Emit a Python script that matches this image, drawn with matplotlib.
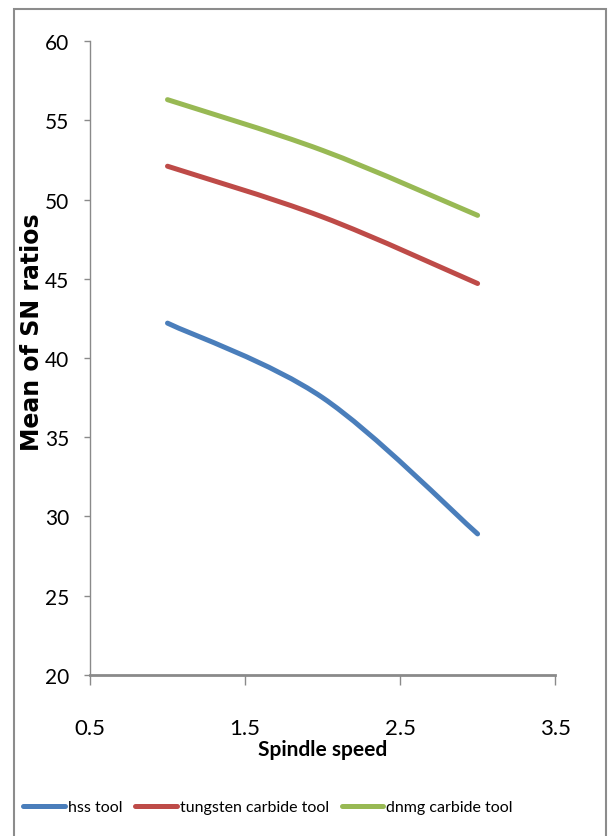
import matplotlib
matplotlib.use('Agg')
import matplotlib.pyplot as plt
from matplotlib.path import Path
from matplotlib.patches import PathPatch, Rectangle
from matplotlib.lines import Line2D

# Данные графика
spindle_speed = [1, 2, 3]
hss_tool = [42.2, 37.5, 28.9]
tungsten_carbide_tool = [52.1, 48.9, 44.7]
dnmg_carbide_tool = [56.3, 53.1, 49.0]

series_names = ['hss tool', 'tungsten carbide tool', 'dnmg carbide tool']
series_values = [hss_tool, tungsten_carbide_tool, dnmg_carbide_tool]
colors = ['#4A7EBB', '#BE4B48', '#98B954']

y_ticks = [20, 25, 30, 35, 40, 45, 50, 55, 60]
x_ticks = [0.5, 1.5, 2.5, 3.5]

narrow = ['Lato', 'DejaVu Sans']


# Сглаженная линия как в Excel (кривые Безье через точки)
def smooth_path(xs, ys):
    pts = list(zip(xs, ys))
    verts = [pts[0]]
    codes = [Path.MOVETO]
    n = len(pts)
    for i in range(n - 1):
        p_prev = pts[i - 1] if i > 0 else pts[i]
        p0 = pts[i]
        p1 = pts[i + 1]
        p_next = pts[i + 2] if i + 2 < n else pts[i + 1]
        c1 = (p0[0] + (p1[0] - p_prev[0]) / 6, p0[1] + (p1[1] - p_prev[1]) / 6)
        c2 = (p1[0] - (p_next[0] - p0[0]) / 6, p1[1] - (p_next[1] - p0[1]) / 6)
        verts += [c1, c2, p1]
        codes += [Path.CURVE4] * 3
    return Path(verts, codes)


fig = plt.figure(figsize=(6.08, 8.37), dpi=100)
ax = fig.add_axes([0.148, 0.1924, 0.765, 0.7574])

for vals, c in zip(series_values, colors):
    patch = PathPatch(smooth_path(spindle_speed, vals), facecolor='none',
                      edgecolor=c, lw=3.6, capstyle='round', joinstyle='round')
    ax.add_patch(patch)

ax.set_xlim(0.5, 3.5)
ax.set_ylim(20, 60)
ax.set_xticks(x_ticks)
ax.set_yticks(y_ticks)
ax.set_xticklabels([str(t) for t in x_ticks], fontsize=16, family=narrow)
ax.set_yticklabels([str(t) for t in y_ticks], fontsize=15, family=narrow)

for s in ['top', 'right']:
    ax.spines[s].set_visible(False)
ax.spines['left'].set_color('#8a8a8a')
ax.spines['left'].set_linewidth(1.0)
ax.spines['bottom'].set_color('#8a8a8a')
ax.spines['bottom'].set_linewidth(2.0)
ax.tick_params(axis='y', length=4, width=1, color='#8a8a8a', pad=11)
ax.tick_params(axis='x', length=7, width=1, color='#8a8a8a', pad=24)

ax.set_xlabel('Spindle speed', fontsize=15, fontweight='bold', family=narrow, labelpad=1)
fig.text(32 / 608, 1 - 332 / 837, 'Mean of SN ratios', rotation=90, fontsize=17,
         fontweight='bold', family='DejaVu Sans', ha='center', va='center')

# Легенда
handles = [Line2D([0], [0], color=c, lw=3.6, solid_capstyle='round') for c in colors]
fig.legend(handles, series_names, loc='center', bbox_to_anchor=(268 / 608, 1 - 808 / 837),
           ncol=3, frameon=False, prop={'family': narrow, 'size': 11.5},
           handlelength=2.6, handletextpad=0.2, columnspacing=0.8)

# Рамка вокруг диаграммы
fig.patches.append(Rectangle((14 / 608, -0.05), 592 / 608, 1 - 10 / 837 + 0.05,
                             transform=fig.transFigure, fill=False,
                             edgecolor='#8c8c8c', lw=1.5))

fig.savefig('out.png', dpi=100)
